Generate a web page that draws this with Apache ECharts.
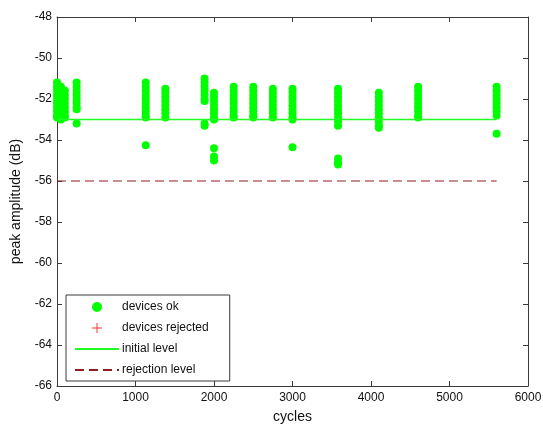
<!DOCTYPE html>
<html>
<head>
<meta charset="utf-8">
<script src="https://cdn.jsdelivr.net/npm/echarts@6/dist/echarts.min.js"></script>
<style>
html, body { margin: 0; padding: 0; background: #fff; }
#main { width: 543px; height: 426px; }
</style>
</head>
<body>
<div id="main"></div>
<script>
// cycle counts at which the devices were measured
var cycleStops = [0, 50, 100, 250, 1130, 1380, 1880, 2000, 2250, 2500, 2750, 3000, 3580, 4100, 4600, 5600];
// peak amplitudes (dB) of the good devices at each cycle count
var okPeaks = [
    [-51.2, -51.4, -51.6, -51.8, -52.0, -52.2, -52.4, -52.6, -52.8, -52.9],
    [-51.4, -51.6, -51.8, -52.0, -52.2, -52.4, -52.6, -52.8, -53.0],
    [-51.6, -51.8, -52.0, -52.2, -52.4, -52.6, -52.8, -52.9],
    [-51.2, -51.4, -51.6, -51.8, -52.0, -52.2, -52.4, -52.5, -53.2],
    [-51.2, -51.4, -51.6, -51.8, -52.0, -52.2, -52.4, -52.6, -52.8, -52.9, -54.25],
    [-51.5, -51.7, -51.9, -52.1, -52.3, -52.5, -52.7, -52.9],
    [-51.0, -51.2, -51.4, -51.6, -51.8, -52.0, -52.1, -53.2, -53.3],
    [-51.7, -51.9, -52.1, -52.3, -52.5, -52.7, -52.9, -53.0, -54.4, -54.8, -55.0],
    [-51.4, -51.6, -51.8, -52.0, -52.2, -52.4, -52.6, -52.8, -52.9],
    [-51.4, -51.6, -51.8, -52.0, -52.2, -52.4, -52.6, -52.8, -52.9],
    [-51.5, -51.7, -51.9, -52.1, -52.3, -52.5, -52.7, -52.9],
    [-51.5, -51.7, -51.9, -52.1, -52.3, -52.5, -52.7, -52.9, -53.0, -54.35],
    [-51.5, -51.7, -51.9, -52.1, -52.3, -52.5, -52.7, -52.9, -53.1, -53.3, -54.9, -55.1, -55.2],
    [-51.7, -51.9, -52.1, -52.3, -52.5, -52.7, -52.9, -53.1, -53.3, -53.4],
    [-51.4, -51.6, -51.8, -52.0, -52.2, -52.4, -52.6, -52.8, -52.9],
    [-51.4, -51.6, -51.8, -52.0, -52.2, -52.4, -52.6, -52.8, -53.7]
];
var rejectedPeaks = [];
var initialLevel = -53.0;
var rejectionLevel = -56.0;
var levelSpan = [0, 5600];

var okPoints = [];
for (var i = 0; i < cycleStops.length; i++) {
    for (var j = 0; j < okPeaks[i].length; j++) {
        okPoints.push([cycleStops[i], okPeaks[i][j]]);
    }
}

var font = 'Liberation Sans, Arial, sans-serif';
var frameColor = '#3a3a3a';

var chart = echarts.init(document.getElementById('main'));
var axisBase = {
    type: 'value',
    axisLine: { show: true, onZero: false, lineStyle: { color: frameColor, width: 1 } },
    axisTick: { show: true, inside: true, length: 5, lineStyle: { color: frameColor } },
    splitLine: { show: false },
    axisLabel: { color: '#111', fontFamily: font, fontSize: 12 }
};
var plus = 'path://M4.5,0 H5.5 V4.5 H10 V5.5 H5.5 V10 H4.5 V5.5 H0 V4.5 H4.5 Z';

var option = {
    animation: false,
    backgroundColor: '#fff',
    grid: { left: 57, right: 15, top: 17, bottom: 40, outerBoundsMode: 'none' },
    xAxis: [
        Object.assign({}, axisBase, {
            min: 0, max: 6000, interval: 1000, position: 'bottom',
            name: 'cycles', nameLocation: 'middle', nameGap: 24,
            nameTextStyle: { color: '#111', fontFamily: font, fontSize: 14 },
            axisLabel: {
                color: '#111', fontFamily: font, fontSize: 12, margin: 6,
                formatter: function (v) { return String(v); }
            }
        }),
        Object.assign({}, axisBase, {
            min: 0, max: 6000, interval: 1000, position: 'top',
            axisLabel: { show: false }
        })
    ],
    yAxis: [
        Object.assign({}, axisBase, {
            min: -66, max: -48, interval: 2, position: 'left',
            name: 'peak amplitude (dB)', nameLocation: 'middle', nameGap: 34,
            nameTextStyle: { color: '#111', fontFamily: font, fontSize: 14 },
            axisLabel: { color: '#111', fontFamily: font, fontSize: 12, margin: 5 }
        }),
        Object.assign({}, axisBase, {
            min: -66, max: -48, interval: 2, position: 'right',
            axisLabel: { show: false }
        })
    ],
    legend: {
        orient: 'vertical',
        left: 66,
        top: 295,
        padding: [6, 21, 5, 8],
        itemGap: 9,
        itemWidth: 44,
        itemHeight: 10,
        borderColor: frameColor,
        borderWidth: 1,
        borderRadius: 0,
        backgroundColor: '#fff',
        textStyle: { color: '#111', fontFamily: font, fontSize: 12, padding: [0, 0, 0, -2] },
        data: [
            { name: 'devices ok', icon: 'circle' },
            { name: 'devices rejected', icon: plus },
            { name: 'initial level', itemStyle: { opacity: 0 } },
            { name: 'rejection level', itemStyle: { opacity: 0 } }
        ]
    },
    series: [
        {
            name: 'devices ok',
            type: 'scatter',
            symbol: 'circle',
            symbolSize: 8,
            itemStyle: { color: '#00ff00', opacity: 1 },
            data: okPoints,
            z: 3
        },
        {
            name: 'devices rejected',
            type: 'scatter',
            symbol: plus,
            symbolSize: 9,
            itemStyle: { color: '#ff0000' },
            data: rejectedPeaks
        },
        {
            name: 'initial level',
            type: 'line',
            symbol: 'none',
            lineStyle: { color: '#22ff22', width: 1.5 },
            itemStyle: { color: '#22ff22' },
            data: [[levelSpan[0], initialLevel], [levelSpan[1], initialLevel]],
            z: 4
        },
        {
            name: 'rejection level',
            type: 'line',
            symbol: 'none',
            lineStyle: { color: '#8e1c22', width: 1.2, type: [9, 5] },
            itemStyle: { color: '#8e1c22' },
            data: [[levelSpan[0], rejectionLevel], [levelSpan[1], rejectionLevel]]
        }
    ]
};
chart.setOption(option);
</script>
</body>
</html>
